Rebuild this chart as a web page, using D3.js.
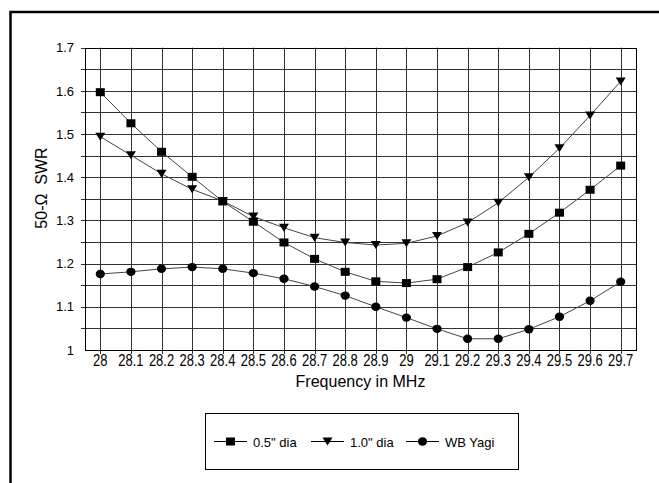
<!DOCTYPE html>
<html>
<head>
<meta charset="utf-8">
<script src="https://cdn.jsdelivr.net/npm/d3@7"></script>
<style>
  html, body { margin: 0; padding: 0; background: #fff; }
  svg { display: block; }
  text { font-family: Arial, "Liberation Sans", sans-serif; fill: #000; }
</style>
</head>
<body>
<svg id="chart" width="659" height="483"></svg>
<script>
// ---- data ----
const categories = ["28","28.1","28.2","28.3","28.4","28.5","28.6","28.7","28.8","28.9","29","29.1","29.2","29.3","29.4","29.5","29.6","29.7"];
const dia05  = [1.597,1.525,1.459,1.401,1.344,1.297,1.249,1.211,1.181,1.159,1.155,1.164,1.192,1.226,1.269,1.318,1.371,1.427];
const dia10  = [1.494,1.451,1.408,1.372,1.345,1.309,1.283,1.260,1.249,1.243,1.247,1.264,1.295,1.341,1.400,1.467,1.543,1.622];
const wbYagi = [1.176,1.181,1.188,1.192,1.188,1.178,1.165,1.147,1.126,1.100,1.075,1.049,1.026,1.026,1.048,1.077,1.114,1.158];
const yTickValues = [1, 1.1, 1.2, 1.3, 1.4, 1.5, 1.6, 1.7];
const yTickLabels = ["1", "1.1", "1.2", "1.3", "1.4", "1.5", "1.6", "1.7"];
const yGridValues = [1.05, 1.1, 1.15, 1.2, 1.25, 1.3, 1.35, 1.4, 1.45, 1.5, 1.55, 1.6, 1.65, 1.7];
const seriesNames = ["0.5\" dia", "1.0\" dia", "WB Yagi"];
const seriesMarkers = ["square", "triangle", "circle"];
const yTitle = "50-\u03A9\u00A0 SWR";
const xTitle = "Frequency in MHz";

const svg = d3.select("#chart");
const L = 85, R = 636, T = 47.7, B = 350;

const x = d3.scaleBand().domain(categories).range([L, R]).padding(0);
const cx = c => x(c) + x.bandwidth() / 2;
const y = d3.scaleLinear().domain([1, 1.7]).range([B, T]);

// outer frame
svg.append("rect").attr("x", 10.5).attr("y", 12).attr("width", 700).attr("height", 600)
  .attr("fill", "none").attr("stroke", "#000").attr("stroke-width", 2.5);

// gridlines
const grid = svg.append("g");
grid.selectAll("line.h").data(yGridValues).join("line")
  .attr("x1", L - 4).attr("x2", R)
  .attr("y1", d => Math.round(y(d)) + 0.5).attr("y2", d => Math.round(y(d)) + 0.5)
  .attr("stroke", "#333").attr("stroke-width", 1);
grid.selectAll("line.v").data(categories).join("line")
  .attr("x1", d => Math.round(cx(d)) + 0.5).attr("x2", d => Math.round(cx(d)) + 0.5)
  .attr("y1", T).attr("y2", B + 4)
  .attr("stroke", "#333").attr("stroke-width", 1);

// plot border
svg.append("rect").attr("x", L + 0.5).attr("y", Math.round(T) + 0.5)
  .attr("width", R - L).attr("height", B - Math.round(T))
  .attr("fill", "none").attr("stroke", "#000").attr("stroke-width", 1);

// y axis
const yAxis = svg.append("g").attr("transform", `translate(${L},0)`)
  .call(d3.axisLeft(y).tickValues(yTickValues).tickFormat((d, i) => yTickLabels[i]).tickSize(5).tickPadding(6));
yAxis.select(".domain").remove();
yAxis.selectAll(".tick line").remove();
yAxis.selectAll("text").attr("font-size", 13).attr("fill", "#111").style("font-family", "Arial, 'Liberation Sans', sans-serif");

// x axis
const xAxis = svg.append("g").attr("transform", `translate(0,${B})`)
  .call(d3.axisBottom(x).tickSize(0).tickPadding(0));
xAxis.select(".domain").remove();
xAxis.selectAll(".tick text")
  .attr("font-size", 13).attr("fill", "#111").attr("y", 0).attr("dy", 0)
  .style("font-family", "Arial, 'Liberation Sans', sans-serif")
  .attr("transform", "translate(0,15.5) scale(1,1.2)");

// titles
svg.append("text").attr("transform", "translate(47,188) rotate(-90)")
  .attr("text-anchor", "middle").attr("font-size", 16).text(yTitle);
svg.append("text").attr("x", (L + R) / 2).attr("y", 387)
  .attr("text-anchor", "middle").attr("font-size", 16).text(xTitle);

// series
const allSeries = [dia05, dia10, wbYagi];
const line = d3.line().x((d, i) => cx(categories[i])).y(d => y(d));

function marker(g, type, px, py) {
  if (type === "square") {
    g.append("rect").attr("x", px - 4.5).attr("y", py - 4).attr("width", 9).attr("height", 8).attr("fill", "#000");
  } else if (type === "triangle") {
    g.append("path").attr("d", `M${px - 5},${py - 4}L${px + 5},${py - 4}L${px},${py + 4}Z`).attr("fill", "#000");
  } else {
    g.append("ellipse").attr("cx", px).attr("cy", py).attr("rx", 4.6).attr("ry", 4.2).attr("fill", "#000");
  }
}

allSeries.forEach((vals, si) => {
  svg.append("path").datum(vals).attr("d", line)
    .attr("fill", "none").attr("stroke", "#444").attr("stroke-width", 1);
});
allSeries.forEach((vals, si) => {
  const g = svg.append("g");
  vals.forEach((v, i) => marker(g, seriesMarkers[si], cx(categories[i]), y(v)));
});

// legend
const lg = svg.append("g");
lg.append("rect").attr("x", 205.5).attr("y", 413.5).attr("width", 313).attr("height", 56)
  .attr("fill", "#fff").attr("stroke", "#000").attr("stroke-width", 1);
const legendX = [214, 311, 406];
seriesNames.forEach((name, i) => {
  const lx = legendX[i], ly = 441.5;
  lg.append("line").attr("x1", lx).attr("x2", lx + 33).attr("y1", ly).attr("y2", ly)
    .attr("stroke", "#000").attr("stroke-width", 1);
  marker(lg, seriesMarkers[i], lx + 16.5, ly);
  lg.append("text").attr("x", lx + 39).attr("y", ly + 5).attr("font-size", 13).attr("fill", "#111").text(name);
});
</script>
</body>
</html>
